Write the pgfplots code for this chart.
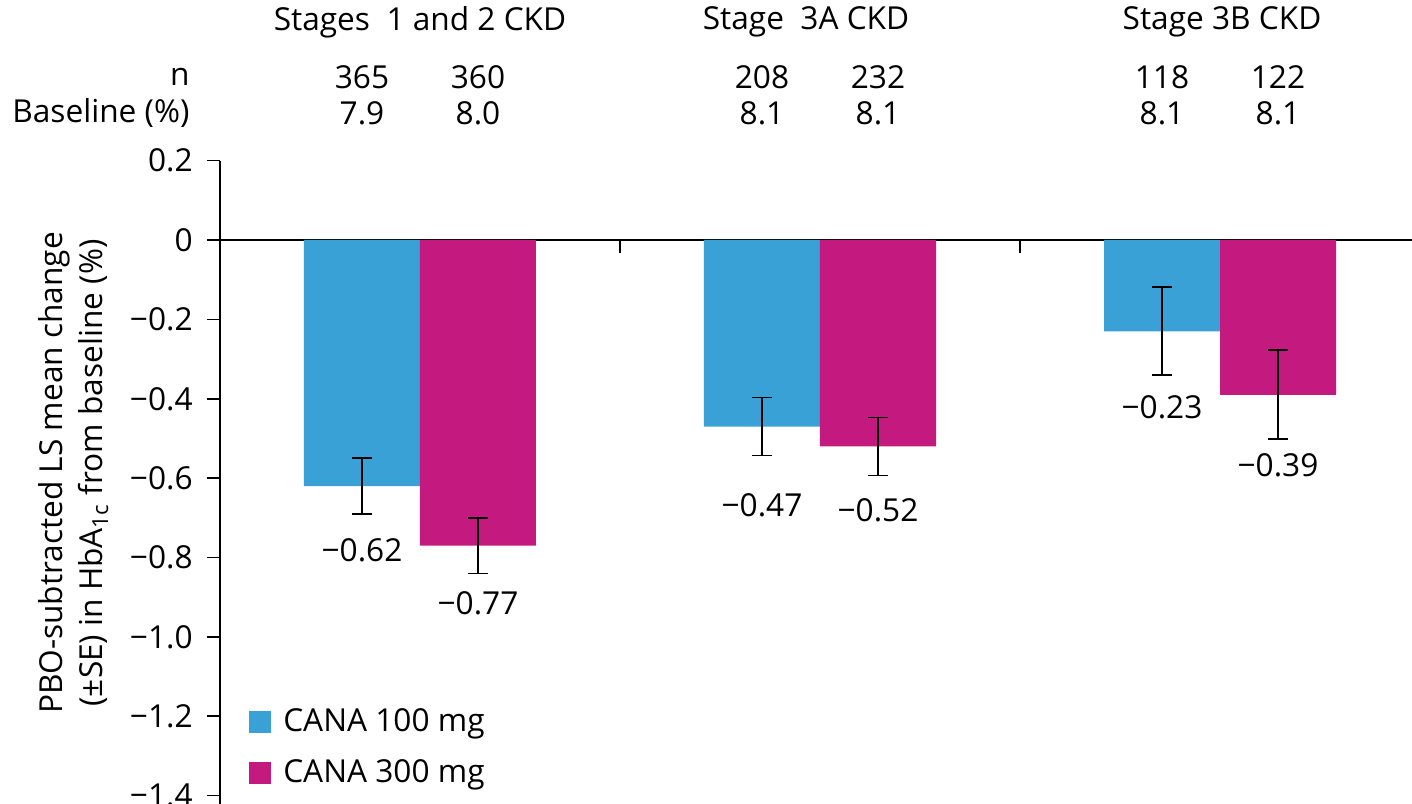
\documentclass[border=0pt]{standalone}
\usepackage{pgfplots}
\pgfplotsset{compat=1.18}
\usepackage{fontspec}
\setmainfont{Open Sans}
\definecolor{canablue}{RGB}{58,161,214}
\definecolor{canamag}{RGB}{196,26,128}

% CANA 100 mg and 300 mg: placebo-subtracted change and SE
\pgfplotstableread{
x   y      se
0   -0.62  0.070
1   -0.47  0.073
2   -0.23  0.111
}\lowdose
\pgfplotstableread{
x   y      se
0   -0.77  0.070
1   -0.52  0.073
2   -0.39  0.112
}\highdose

\begin{document}
\fontsize{11.3}{14.3}\selectfont
\begin{tikzpicture}
\begin{axis}[
  anchor=origin, at={(0,0)},
  x=142.86pt, y=141.75pt,
  xmin=-0.5, xmax=2.48,
  ymin=-1.45, ymax=0.2,
  axis y line*=left,
  axis x line*=middle,
  axis line style={line width=0.6pt, black},
  xtick={0.5,1.5}, xticklabels={},
  x tick style={line width=0.6pt, black},
  xtick align=outside,
  major tick length=4.8pt,
  ytick={-1.4,-1.2,-1.0,-0.8,-0.6,-0.4,-0.2,0,0.2},
  yticklabels={\mbox{−1.4},\mbox{−1.2},\mbox{−1.0},\mbox{−0.8},\mbox{−0.6},\mbox{−0.4},\mbox{−0.2},\mbox{0},\mbox{0.2}},
  y tick style={line width=0.6pt, black},
  ytick align=outside,
  yticklabel style={font=\fontsize{11.3}{13}\selectfont, xshift=-1pt},
  clip=false,
  ybar, bar width=0.29,
  legend style={at={(axis cs:-0.43,-1.165)}, anchor=north west,
    draw=none, fill=none, font=\fontsize{11.3}{13}\selectfont,
    row sep=4.3pt, column sep=2.5pt, inner sep=0pt},
  legend cell align=left,
  legend image code/.code={\fill[#1] (0pt,-3.95pt) rectangle (7.9pt,3.95pt);},
]
\addplot[fill=canablue, draw=none, bar shift=-0.145,
  error bars/.cd, y dir=both, y explicit,
  error bar style={line width=0.6pt, black},
  error mark options={rotate=90, mark size=3.4pt, line width=0.6pt, black}]
  table[x=x, y=y, y error=se]{\lowdose};
\addlegendentry{CANA 100 mg}
\addplot[fill=canamag, draw=none, bar shift=0.145,
  error bars/.cd, y dir=both, y explicit,
  error bar style={line width=0.6pt, black},
  error mark options={rotate=90, mark size=3.4pt, line width=0.6pt, black}]
  table[x=x, y=y, y error=se]{\highdose};
\addlegendentry{CANA 300 mg}

% value labels under the error bars
\node at (axis cs:-0.145,-0.781) {−0.62};
\node at (axis cs:0.145,-0.915) {−0.77};
\node at (axis cs:0.855,-0.668) {−0.47};
\node at (axis cs:1.145,-0.680) {−0.52};
\node at (axis cs:1.855,-0.421) {−0.23};
\node at (axis cs:2.145,-0.567) {−0.39};

% group headings, sample sizes and baseline HbA1c
\node at (axis cs:0,0.549) {Stages\ \ 1 and 2 CKD};
\node at (axis cs:0.965,0.549) {Stage\ \ 3A CKD};
\node at (axis cs:2.005,0.549) {Stage 3B CKD};
\node[anchor=east, inner xsep=0pt] at (axis cs:-0.575,0.411) {n};
\node[anchor=east, inner xsep=0pt] at (axis cs:-0.575,0.32) {Baseline (\%)};
\node at (axis cs:-0.145,0.411) {365};
\node at (axis cs:0.145,0.411) {360};
\node at (axis cs:0.855,0.411) {208};
\node at (axis cs:1.145,0.411) {232};
\node at (axis cs:1.855,0.411) {118};
\node at (axis cs:2.145,0.411) {122};
\node at (axis cs:-0.145,0.32) {7.9};
\node at (axis cs:0.145,0.32) {8.0};
\node at (axis cs:0.855,0.32) {8.1};
\node at (axis cs:1.145,0.32) {8.1};
\node at (axis cs:1.855,0.32) {8.1};
\node at (axis cs:2.145,0.32) {8.1};

% axis title
\node[rotate=90, align=center] at (axis cs:-0.866,-0.587)
  {PBO-subtracted LS mean change\\(±SE) in HbA\textsubscript{1c} from baseline (\%)};
\end{axis}
\pgfresetboundingbox
\useasboundingbox (-150pt,-201.43pt) rectangle (354.29pt,85.71pt);
\end{tikzpicture}
\end{document}
